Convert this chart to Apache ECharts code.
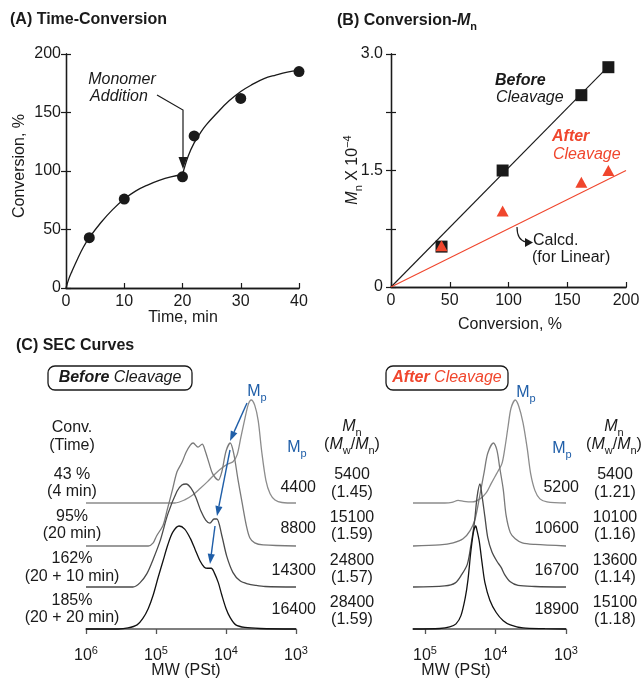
<!DOCTYPE html>
<html>
<head>
<meta charset="utf-8">
<script src="https://cdn.jsdelivr.net/npm/echarts@6/dist/echarts.min.js"></script>
<style>
html, body { margin: 0; padding: 0; background: #fff; }
#chart { width: 644px; height: 687px; }
</style>
</head>
<body>
<div id="chart"></div>
<script>
const FONT = 'Liberation Sans';
const INK = '#1a1a1a';
const RED = '#f0462d';
const BLUE = '#1f5ea8';

// (A) time - conversion
const timeMin = [4, 10, 20, 22, 30, 40];
const conversion = [43, 76, 95, 130, 162, 185];
const fitFirstStage = [[0, 0], [0.5, 8], [1, 14], [2, 25], [3, 35], [4, 43], [6, 56], [8, 67], [10, 76], [12, 83], [14, 88], [16, 92], [18, 95], [20, 97]];
const fitSecondStage = [[20, 97], [21, 113], [22, 124], [23, 132], [24, 139], [26, 150], [28, 160], [30, 168], [32, 174], [34, 179], [36, 182], [38, 184.5], [40, 186]];

// (B) conversion - Mn (x 10^-4)
const convB = [43, 95, 162, 185];
const mnBefore = [0.52, 1.50, 2.47, 2.83];
const mnAfter = [0.53, 0.98, 1.35, 1.50];
const beforeLine = [[0, 0], [185, 2.84]];
const calcdLine = [[0, 0], [200, 1.5]];

// (C) SEC traces: [log10 MW, normalised RI]
const secBefore43 = [[6.0, 0], [4.73, 0], [4.59, 0.03], [4.47, 0.08], [4.37, 0.14], [4.26, 0.21], [4.16, 0.28], [4.06, 0.34], [3.97, 0.38], [3.9, 0.4], [3.84, 0.47], [3.79, 0.63], [3.73, 0.82], [3.68, 0.96], [3.64, 1.0], [3.59, 0.95], [3.54, 0.8], [3.49, 0.5], [3.43, 0.22], [3.37, 0.09], [3.3, 0.03], [3.2, 0.005], [3.0, 0]];
const secBefore95 = [[6.0, 0], [5.11, 0], [5.04, 0.03], [4.99, 0.1], [4.9, 0.2], [4.84, 0.35], [4.76, 0.56], [4.7, 0.72], [4.63, 0.81], [4.57, 0.91], [4.51, 0.98], [4.47, 1.0], [4.4, 0.96], [4.34, 0.99], [4.3, 0.93], [4.24, 0.8], [4.19, 0.7], [4.11, 0.64], [4.06, 0.72], [4.0, 0.92], [3.94, 1.0], [3.89, 0.9], [3.83, 0.65], [3.77, 0.42], [3.71, 0.2], [3.66, 0.08], [3.59, 0.03], [3.47, 0.01], [3.0, 0]];
const secBefore162 = [[6.0, 0], [5.33, 0], [5.23, 0.04], [5.13, 0.13], [5.04, 0.27], [4.94, 0.45], [4.83, 0.71], [4.7, 0.93], [4.63, 0.99], [4.57, 1.0], [4.5, 0.96], [4.43, 0.87], [4.36, 0.74], [4.29, 0.65], [4.23, 0.62], [4.17, 0.66], [4.13, 0.66], [4.06, 0.5], [3.99, 0.3], [3.9, 0.14], [3.8, 0.06], [3.69, 0.03], [3.57, 0.015], [3.44, 0.005], [3.0, 0]];
const secBefore185 = [[6.0, 0], [5.54, 0], [5.4, 0.01], [5.27, 0.04], [5.19, 0.1], [5.11, 0.2], [5.04, 0.33], [4.97, 0.5], [4.9, 0.66], [4.83, 0.82], [4.76, 0.94], [4.67, 1.0], [4.59, 0.97], [4.51, 0.88], [4.44, 0.77], [4.37, 0.66], [4.31, 0.6], [4.26, 0.59], [4.21, 0.59], [4.17, 0.55], [4.11, 0.45], [4.06, 0.33], [4.0, 0.2], [3.94, 0.11], [3.86, 0.04], [3.73, 0.015], [3.51, 0.005], [3.0, 0]];

const secAfter43 = [[5.17, 0], [4.72, 0], [4.62, 0.005], [4.53, 0.025], [4.45, 0.015], [4.33, 0.01], [4.22, 0.04], [4.13, 0.1], [4.06, 0.19], [3.98, 0.29], [3.91, 0.38], [3.87, 0.52], [3.82, 0.75], [3.78, 0.92], [3.72, 1.0], [3.67, 0.94], [3.61, 0.78], [3.55, 0.53], [3.5, 0.28], [3.44, 0.12], [3.37, 0.04], [3.27, 0.01], [3.0, 0]];
const secAfter95 = [[5.17, 0], [4.79, 0.01], [4.6, 0.03], [4.46, 0.07], [4.36, 0.15], [4.29, 0.26], [4.22, 0.5], [4.16, 0.72], [4.11, 0.9], [4.03, 1.0], [3.98, 0.93], [3.94, 0.76], [3.89, 0.55], [3.85, 0.3], [3.79, 0.13], [3.72, 0.07], [3.62, 0.03], [3.44, 0.015], [3.0, 0]];
const secAfter162 = [[5.17, 0], [4.72, 0.01], [4.57, 0.04], [4.48, 0.12], [4.4, 0.22], [4.35, 0.4], [4.3, 0.62], [4.26, 0.88], [4.22, 1.0], [4.19, 0.88], [4.15, 0.68], [4.11, 0.48], [4.05, 0.34], [3.98, 0.25], [3.92, 0.19], [3.87, 0.12], [3.79, 0.05], [3.68, 0.015], [3.44, 0.005], [3.0, 0]];
const secAfter185 = [[5.17, 0], [4.79, 0.005], [4.65, 0.02], [4.56, 0.05], [4.49, 0.13], [4.43, 0.3], [4.39, 0.48], [4.35, 0.75], [4.31, 0.95], [4.28, 1.0], [4.26, 0.95], [4.23, 0.85], [4.19, 0.64], [4.15, 0.45], [4.08, 0.28], [3.99, 0.16], [3.89, 0.08], [3.79, 0.04], [3.61, 0.01], [3.3, 0.003], [3.0, 0]];

const convLabels = ['43 %', '95%', '162%', '185%'];
const timeLabels = ['(4 min)', '(20 min)', '(20 + 10 min)', '(20 + 20 min)'];
const mpBefore = ['4400', '8800', '14300', '16400'];
const mnSecBefore = ['5400', '15100', '24800', '28400'];
const pdiBefore = ['(1.45)', '(1.59)', '(1.57)', '(1.59)'];
const mpAfter = ['5200', '10600', '16700', '18900'];
const mnSecAfter = ['5400', '10100', '13600', '15100'];
const pdiAfter = ['(1.21)', '(1.16)', '(1.14)', '(1.18)'];

const secBefore = [secBefore43, secBefore95, secBefore162, secBefore185];
const secAfter = [secAfter43, secAfter95, secAfter162, secAfter185];
const secColors = ['#8c8c8c', '#7a7a7a', '#4a4a4a', '#111111'];

// layout
const SEC_BASE = [503, 546, 587, 629];
const SEC_H = 103;

const grid = [
    { left: 66, top: 54, width: 233, height: 234 },
    { left: 391, top: 54, width: 235, height: 233 },
];
SEC_BASE.forEach(b => grid.push({ left: 86, width: 210, top: b - SEC_H, height: SEC_H }));
SEC_BASE.forEach(b => grid.push({ left: 413, width: 153, top: b - SEC_H, height: SEC_H }));

const lbl = { fontFamily: FONT, fontSize: 16, color: INK };
const frame = { show: true, lineStyle: { color: INK, width: 1.3 } };
const tickIn = { show: true, inside: true, length: 5, lineStyle: { color: INK, width: 1.2 } };

function frameAxis(gridIndex, position, min, max, interval, label) {
    return {
        gridIndex, position, type: 'value', min, max, interval,
        axisLine: frame,
        axisTick: position === 'top' ? { show: false } : tickIn,
        axisLabel: label ? Object.assign({}, lbl, label) : { show: false },
        splitLine: { show: false },
    };
}

const powRich = {
    b: { fontFamily: FONT, fontSize: 16, lineHeight: 22, color: INK },
    s: { fontFamily: FONT, fontSize: 11, lineHeight: 12, verticalAlign: 'top', color: INK },
};
function secAxis(gridIndex, max, shown) {
    const ax = {
        gridIndex, type: 'value', min: 3, max, interval: 1, inverse: true,
        show: shown, position: 'bottom', offset: 11,
        axisLine: { show: true, lineStyle: { color: '#555', width: 1.5 } },
        axisTick: { show: true, length: 5, lineStyle: { color: '#555', width: 1.3 } },
        axisLabel: { margin: 5, formatter: v => '{b|10}{s|' + v + '}', rich: powRich },
        splitLine: { show: false },
    };
    if (max !== 6) {
        ax.axisTick.customValues = [3, 4, 5];
        ax.axisLabel.customValues = [3, 4, 5];
    }
    return ax;
}

const xAxis = [
    frameAxis(0, 'bottom', 0, 40, 10, { margin: 6 }),
    frameAxis(0, 'top', 0, 40, 10, null),
    frameAxis(1, 'bottom', 0, 200, 50, { margin: 6 }),
    frameAxis(1, 'top', 0, 200, 50, null),
];
const yAxis = [
    frameAxis(0, 'left', 0, 200, 50, { margin: 5 }),
    frameAxis(0, 'right', 0, 200, 50, null),
    frameAxis(1, 'left', 0, 3, 0.75, { margin: 8, formatter: v => v === 0 ? '0' : v === 1.5 ? '1.5' : v === 3 ? '3.0' : '' }),
    frameAxis(1, 'right', 0, 3, 0.75, null),
];
yAxis[1].axisTick = tickIn;
yAxis[3].axisTick = tickIn;

for (let i = 0; i < 4; i++) {
    xAxis.push(secAxis(2 + i, 6, i === 3));
    yAxis.push({ gridIndex: 2 + i, type: 'value', min: 0, max: 1, show: false, splitLine: { show: false } });
}
for (let i = 0; i < 4; i++) {
    xAxis.push(secAxis(6 + i, 5.17, i === 3));
    yAxis.push({ gridIndex: 6 + i, type: 'value', min: 0, max: 1, show: false, splitLine: { show: false } });
}

const series = [
    { type: 'line', xAxisIndex: 0, yAxisIndex: 0, data: fitFirstStage, smooth: 0.4, symbol: 'none', lineStyle: { color: INK, width: 1.3 } },
    { type: 'line', xAxisIndex: 0, yAxisIndex: 0, data: fitSecondStage, smooth: 0.4, symbol: 'none', lineStyle: { color: INK, width: 1.3 } },
    { type: 'scatter', xAxisIndex: 0, yAxisIndex: 0, data: timeMin.map((t, i) => [t, conversion[i]]), symbolSize: 11, itemStyle: { color: INK, opacity: 1 } },
    { type: 'line', xAxisIndex: 2, yAxisIndex: 2, data: beforeLine, symbol: 'none', lineStyle: { color: INK, width: 1.1 } },
    { type: 'line', xAxisIndex: 2, yAxisIndex: 2, data: calcdLine, symbol: 'none', lineStyle: { color: RED, width: 1.1 } },
    { type: 'scatter', xAxisIndex: 2, yAxisIndex: 2, data: convB.map((c, i) => [c, mnBefore[i]]), symbol: 'rect', symbolSize: 12, itemStyle: { color: INK, opacity: 1 } },
    { type: 'scatter', xAxisIndex: 2, yAxisIndex: 2, data: convB.map((c, i) => [c, mnAfter[i]]), symbol: 'triangle', symbolSize: [12, 11], itemStyle: { color: RED, opacity: 1 }, z: 3 },
];
secBefore.forEach((d, i) => series.push({
    type: 'line', xAxisIndex: 4 + i, yAxisIndex: 4 + i, data: d, smooth: 0.3, symbol: 'none', clip: false,
    lineStyle: { color: secColors[i], width: 1.3 }, z: 2 + i,
}));
secAfter.forEach((d, i) => series.push({
    type: 'line', xAxisIndex: 8 + i, yAxisIndex: 8 + i, data: d, smooth: 0.3, symbol: 'none', clip: false,
    lineStyle: { color: secColors[i], width: 1.3 }, z: 2 + i,
}));

// ---- annotations ----
function txt(x, y, text, st) {
    return {
        type: 'text', x, y, silent: true, z: 50,
        style: Object.assign({
            text, fill: INK, fontFamily: FONT, fontSize: 16,
            align: 'center', verticalAlign: 'middle', textAlign: 'center', textVerticalAlign: 'middle',
        }, st || {}),
    };
}
function left(st) { return Object.assign({ align: 'left', textAlign: 'left' }, st || {}); }

const rich = {
    r: { fontFamily: FONT, fontSize: 16, lineHeight: 22 },
    i: { fontFamily: FONT, fontSize: 16, lineHeight: 22, fontStyle: 'italic' },
    bi: { fontFamily: FONT, fontSize: 16, lineHeight: 22, fontStyle: 'italic', fontWeight: 'bold' },
    b: { fontFamily: FONT, fontSize: 16, lineHeight: 22, fontWeight: 'bold' },
    sub: { fontFamily: FONT, fontSize: 11, lineHeight: 12, verticalAlign: 'bottom' },
    bsub: { fontFamily: FONT, fontSize: 11, lineHeight: 12, verticalAlign: 'bottom', fontWeight: 'bold' },
    sup: { fontFamily: FONT, fontSize: 11, lineHeight: 12, verticalAlign: 'top' },
};
function rtxt(x, y, text, st) { return txt(x, y, text, Object.assign({ rich }, st || {})); }

function arrow(x1, y1, x2, y2, color, head) {
    const a = Math.atan2(y2 - y1, x2 - x1);
    const L = head || 10, W = 3.6;
    const bx = x2 - L * Math.cos(a), by = y2 - L * Math.sin(a);
    const px = -Math.sin(a) * W, py = Math.cos(a) * W;
    return [
        { type: 'line', silent: true, z: 40, shape: { x1, y1, x2: bx, y2: by }, style: { stroke: color, lineWidth: 1.4 } },
        { type: 'polygon', silent: true, z: 40, shape: { points: [[x2, y2], [bx + px, by + py], [bx - px, by - py]] }, style: { fill: color } },
    ];
}

const graphic = [
    // panel titles
    txt(10, 20, '(A) Time-Conversion', left({ fontWeight: 'bold' })),
    rtxt(337, 21, '{b|(B) Conversion-}{bi|M}{bsub|n}', left()),
    txt(16, 346, '(C) SEC Curves', left({ fontWeight: 'bold' })),

    // axis titles
    Object.assign(txt(20, 166, 'Conversion, %'), { rotation: Math.PI / 2 }),
    txt(183, 318, 'Time, min'),
    Object.assign(rtxt(353, 170, '{i|M}{sub|n}{r| X 10}{sup|\u22124}'), { rotation: Math.PI / 2 }),
    txt(510, 325, 'Conversion, %'),

    // (A) monomer addition
    txt(122, 80, 'Monomer', { fontStyle: 'italic' }),
    txt(119, 97, 'Addition', { fontStyle: 'italic' }),
    { type: 'polyline', silent: true, z: 40, shape: { points: [[157, 95], [183, 110], [183, 160]] }, style: { stroke: INK, lineWidth: 1.2, fill: null } },
    { type: 'polygon', silent: true, z: 40, shape: { points: [[178.5, 157], [187.5, 157], [183, 169]] }, style: { fill: INK } },

    // (B) labels
    txt(495, 81, 'Before', left({ fontStyle: 'italic', fontWeight: 'bold' })),
    txt(496, 98, 'Cleavage', left({ fontStyle: 'italic' })),
    txt(552, 137, 'After', left({ fontStyle: 'italic', fontWeight: 'bold', fill: RED })),
    txt(553, 155, 'Cleavage', left({ fontStyle: 'italic', fill: RED })),
    txt(533, 241, 'Calcd.', left()),
    txt(532, 258, '(for Linear)', left()),
    { type: 'bezierCurve', silent: true, z: 40, shape: { x1: 517, y1: 227, x2: 526, y2: 242, cpx1: 517, cpy1: 240 }, style: { stroke: INK, lineWidth: 1.2, fill: null } },
    { type: 'polygon', silent: true, z: 40, shape: { points: [[525, 238], [533, 242.5], [525, 247]] }, style: { fill: INK } },

    // (C) boxes
    { type: 'rect', silent: true, z: 30, shape: { x: 48, y: 366, width: 144, height: 24, r: 7 }, style: { fill: '#fff', stroke: INK, lineWidth: 1.3 } },
    rtxt(120, 378, '{bi|Before}{i| Cleavage}'),
    { type: 'rect', silent: true, z: 30, shape: { x: 386, y: 366, width: 122, height: 24, r: 7 }, style: { fill: '#fff', stroke: INK, lineWidth: 1.3 } },
    rtxt(447, 378, '{bi|After}{i| Cleavage}', { fill: RED }),

    // (C) column headers
    txt(72, 428, 'Conv.'),
    txt(72, 446, '(Time)'),
    rtxt(257, 392, '{r|M}{sub|p}', { fill: BLUE }),
    rtxt(297, 448, '{r|M}{sub|p}', { fill: BLUE }),
    rtxt(352, 427, '{i|M}{sub|n}'),
    rtxt(352, 445, '{r|(}{i|M}{sub|w}{r|/}{i|M}{sub|n}{r|)}'),
    rtxt(526, 393, '{r|M}{sub|p}', { fill: BLUE }),
    rtxt(562, 449, '{r|M}{sub|p}', { fill: BLUE }),
    rtxt(614, 427, '{i|M}{sub|n}'),
    rtxt(614, 445, '{r|(}{i|M}{sub|w}{r|/}{i|M}{sub|n}{r|)}'),

    txt(186, 671, 'MW (PSt)'),
    txt(456, 671, 'MW (PSt)'),
];

const convY = [475, 517, 559, 601];
const timeY = [492, 534, 577, 618];
const mpY = [488, 529, 571, 610];
const mnY = [475, 518, 561, 603];
const pdiY = [493, 535, 578, 620];
for (let i = 0; i < 4; i++) {
    graphic.push(txt(72, convY[i], convLabels[i]));
    graphic.push(txt(72, timeY[i], timeLabels[i]));
    graphic.push(txt(316, mpY[i], mpBefore[i], { align: 'right', textAlign: 'right' }));
    graphic.push(txt(352, mnY[i], mnSecBefore[i]));
    graphic.push(txt(352, pdiY[i], pdiBefore[i]));
    graphic.push(txt(579, mpY[i], mpAfter[i], { align: 'right', textAlign: 'right' }));
    graphic.push(txt(615, mnY[i], mnSecAfter[i]));
    graphic.push(txt(615, pdiY[i], pdiAfter[i]));
}

// Mp shift arrows (before cleavage)
graphic.push(...arrow(247, 403, 230, 441, BLUE));
graphic.push(...arrow(230, 450, 217, 516, BLUE));
graphic.push(...arrow(215, 526, 210, 564, BLUE));

const chart = echarts.init(document.getElementById('chart'), null, { renderer: 'canvas' });
chart.setOption({
    animation: false,
    backgroundColor: '#fff',
    grid, xAxis, yAxis, series, graphic,
});
</script>
</body>
</html>
